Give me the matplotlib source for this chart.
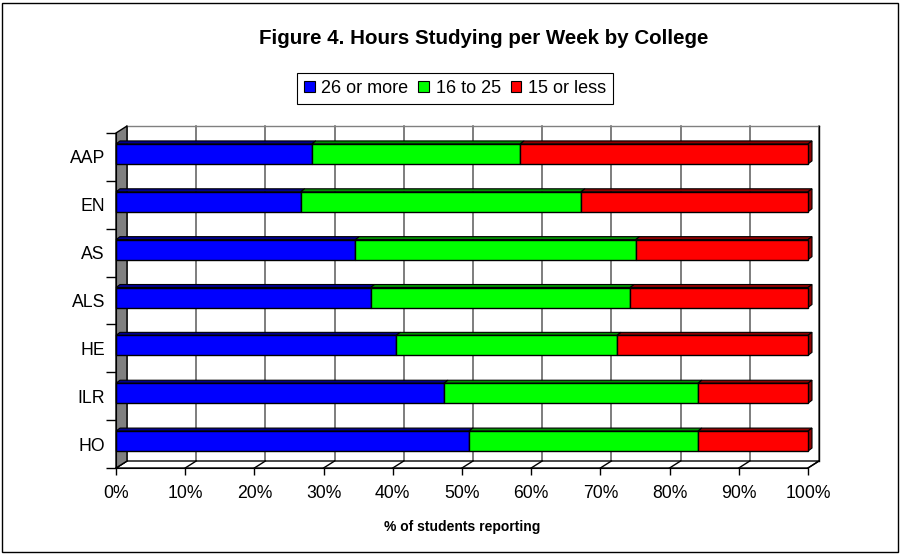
import matplotlib
matplotlib.use("Agg")
import matplotlib.pyplot as plt
from matplotlib.patches import Polygon, Rectangle, Patch

plt.rcParams["font.family"] = ["Liberation Sans", "DejaVu Sans"]

# ── Data ───────────────────────────────────────────────────────────────
colleges = ["AAP", "EN", "AS", "ALS", "HE", "ILR", "HO"]
series_names = ["26 or more", "16 to 25", "15 or less"]
hrs_26_plus = [28.3, 26.7, 34.6, 36.8, 40.5, 47.4, 51.0]
hrs_16_25 = [30.1, 40.5, 40.5, 37.5, 31.9, 36.7, 33.1]
hrs_15_less = [41.6, 32.8, 24.9, 25.7, 27.6, 15.9, 15.9]
x_ticks = list(range(0, 101, 10))
x_tick_labels = [f"{t}%" for t in x_ticks]

face_colors = ["#0000ff", "#00ff00", "#ff0000"]
top_colors = ["#000090", "#009000", "#900000"]

# ── Figure / front plane of the pseudo-3D plot box ─────────────────────
W, H = 901, 554
fig = plt.figure(figsize=(W / 100, H / 100), dpi=100)
fx0, fx1, fy0, fy1 = 116, 808, 133, 468   # front plane, pixels
ax = fig.add_axes([fx0 / W, 1 - fy1 / H, (fx1 - fx0) / W, (fy1 - fy0) / H])
n = len(colleges)
ax.set_xlim(0, 100)
ax.set_ylim(0, n)

sx = 100 / (fx1 - fx0)
sy = n / (fy1 - fy0)


def px(dx, dy):
    """pixel offset -> data units"""
    return dx * sx, dy * sy


DX, DY = px(11, 7)      # wall depth
bdx, bdy = px(4, 3)     # bar depth

# back wall + gridlines
ax.add_patch(Rectangle((DX, DY), 100, n, fc="white", ec="none",
                       zorder=0, clip_on=False))
for t in x_ticks:
    ax.plot([t + DX, t + DX], [DY, n + DY], color="#5a5a5a", lw=1.1,
            zorder=1, clip_on=False)
ax.plot([DX, 100 + DX], [n + DY, n + DY], color="#808080", lw=1,
        zorder=1, clip_on=False)
ax.plot([100 + DX, 100 + DX], [DY, n + DY], color="black", lw=1,
        zorder=1, clip_on=False)

# floor
ax.add_patch(Polygon([(0, 0), (100, 0), (100 + DX, DY), (DX, DY)],
                     closed=True, fc="white", ec="black", lw=1,
                     zorder=1, clip_on=False))
for t in x_ticks:
    ax.plot([t, t + DX], [0, DY], color="black", lw=1, zorder=1,
            clip_on=False)

# left wall
ax.add_patch(Polygon([(0, 0), (0, n), (DX, n + DY), (DX, DY)],
                     closed=True, fc="#808080", ec="black", lw=1,
                     zorder=2, clip_on=False))

# ── Bars ───────────────────────────────────────────────────────────────
ys = [n - i - 0.5 + 3 * sy for i in range(n)]
bar_h = 20 * sy
series = [hrs_26_plus, hrs_16_25, hrs_15_less]
left = [0.0] * n
for s, (vals, fc, tc) in enumerate(zip(series, face_colors, top_colors)):
    ax.barh(ys, vals, left=left, height=bar_h, color=fc, ec="black",
            lw=1, zorder=4, clip_on=False)
    for y, l, v in zip(ys, left, vals):
        yt = y + bar_h / 2
        ax.add_patch(Polygon([(l, yt), (l + v, yt), (l + v + bdx, yt + bdy),
                              (l + bdx, yt + bdy)], closed=True, fc=tc,
                             ec="black", lw=0.8, zorder=3, clip_on=False))
        if s == len(series) - 1:
            r = l + v
            yb = y - bar_h / 2
            ax.add_patch(Polygon([(r, yb), (r, yt), (r + bdx, yt + bdy),
                                  (r + bdx, yb + bdy)], closed=True,
                                 fc="#900000", ec="black", lw=0.8,
                                 zorder=3, clip_on=False))
    left = [a + b for a, b in zip(left, vals)]

# ── Axes: ticks and labels ─────────────────────────────────────────────
for sp in ["top", "right"]:
    ax.spines[sp].set_visible(False)
ax.spines["bottom"].set_zorder(5)
ax.spines["left"].set_zorder(5)
ax.set_xticks(x_ticks, x_tick_labels, fontsize=12.7)
ax.tick_params(axis="x", length=5, width=1, pad=7)
ax.set_yticks(range(n + 1), [""] * (n + 1))
ax.set_yticks([n - i - 0.5 for i in range(n)], colleges, minor=True,
              fontsize=12.7)
ax.tick_params(axis="y", which="major", length=7, width=1)
ax.tick_params(axis="y", which="minor", length=0, pad=8)

fig.text(462 / W, 1 - 527 / H, "% of students reporting", ha="center",
         va="center", fontsize=10, fontweight="bold")
fig.text(484 / W, 1 - 38 / H, "Figure 4. Hours Studying per Week by College",
         ha="center", va="center", fontsize=14.8, fontweight="bold")

handles = [Patch(fc=c, ec="black", lw=0.8) for c in face_colors]
leg = fig.legend(handles, series_names, loc="center",
                 bbox_to_anchor=(455 / W, 1 - 88.5 / H), ncol=3,
                 frameon=True, fancybox=False, edgecolor="black",
                 framealpha=1, fontsize=13, handlelength=0.6,
                 handleheight=0.6, handletextpad=0.35, columnspacing=0.55,
                 borderpad=0.4, borderaxespad=0)
leg.get_frame().set_linewidth(0.8)

fig.add_artist(Rectangle((2 / W, 2 / H), (W - 5) / W, (H - 5) / H,
                         transform=fig.transFigure, fill=False,
                         ec="black", lw=1))

fig.savefig("out.png", dpi=100)
